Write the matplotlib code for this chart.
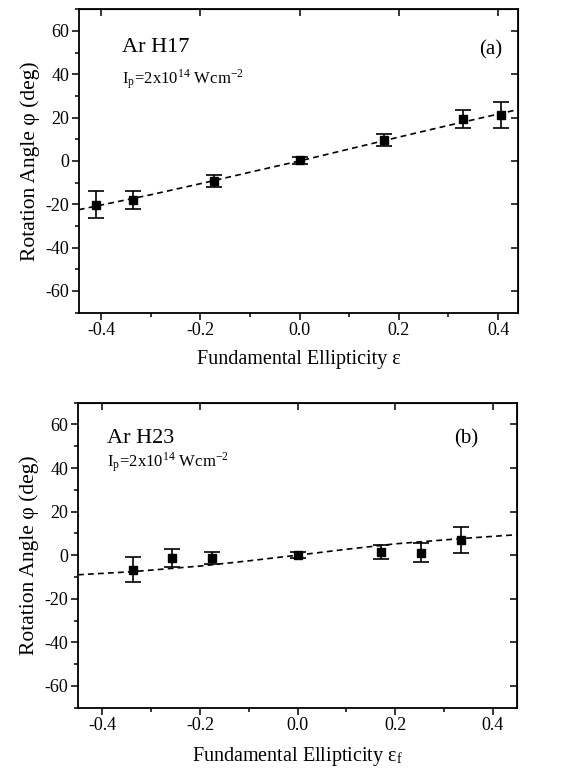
import numpy as np
import matplotlib
matplotlib.use("Agg")
import matplotlib.pyplot as plt
from matplotlib.ticker import MultipleLocator

plt.rcParams['font.family'] = ['Liberation Serif', 'DejaVu Serif']
plt.rcParams['mathtext.fontset'] = 'stix'

# panel (a): Ar H17
xa = [-0.41, -0.335, -0.173, 0.0, 0.17, 0.33, 0.405]
ya = [-20.2, -18.0, -9.2, 0.2, 9.8, 19.4, 21.0]
ea = [6.1, 4.3, 2.6, 1.5, 2.7, 4.2, 6.0]
fita_x = [-0.445, -0.3, -0.2, -0.1, 0.0, 0.1, 0.2, 0.3, 0.44]
fita_y = [-22.5, -15.6, -10.5, -5.2, 0.0, 5.5, 11.0, 16.4, 23.7]

# panel (b): Ar H23
xb = [-0.337, -0.258, -0.175, 0.0, 0.172, 0.254, 0.334]
yb = [-6.6, -1.2, -1.4, 0.0, 1.4, 1.1, 6.9]
eb = [5.8, 4.2, 2.8, 1.3, 3.1, 4.3, 6.0]
fitb_x = [-0.45, -0.34, -0.2, -0.1, 0.0, 0.1, 0.2, 0.34, 0.45]
fitb_y = [-9.0, -7.6, -5.0, -2.6, 0.0, 2.7, 5.2, 7.7, 9.4]

xticks = [-0.4, -0.2, 0.0, 0.2, 0.4]
xticklabels = ['-0.4', '-0.2', '0.0', '0.2', '0.4']
yticks = [-60, -40, -20, 0, 20, 40, 60]
yticklabels = ['-60', '-40', '-20', '0', '20', '40', '60']


def panel(ax, x, y, e, fx, fy, xlim, title, tag, xlabel, tx, ty, ipy, tagx, tagy):
    ax.plot(fx, fy, color='black', lw=1.2, ls=(0, (3.5, 2.5)))
    ax.errorbar(x, y, yerr=e, fmt='s', color='black', ms=6, capsize=6,
                elinewidth=1.2, capthick=1.2)
    ax.set_xlim(*xlim)
    ax.set_ylim(-70, 70)
    ax.xaxis.set_minor_locator(MultipleLocator(0.1))
    ax.yaxis.set_minor_locator(MultipleLocator(10))
    ax.tick_params(which='major', direction='out', length=5, width=1.1,
                   labelsize=13, pad=2)
    ax.tick_params(which='minor', direction='out', length=3, width=1.1)
    ax.set_xticks(xticks)
    ax.set_xticklabels(xticklabels)
    ax.set_yticks(yticks)
    ax.set_yticklabels(yticklabels)
    for s in ax.spines.values():
        s.set_linewidth(1.3)
    top = ax.secondary_xaxis('top')
    top.set_xticks(xticks)
    top.tick_params(direction='in', length=5, width=1.1, labeltop=False)
    right = ax.secondary_yaxis('right')
    right.set_yticks(yticks)
    right.tick_params(direction='in', length=5, width=1.1, labelright=False)
    ax.set_ylabel('Rotation Angle φ (deg)', fontsize=15.5, labelpad=4)
    ax.set_xlabel(xlabel, fontsize=14.5, labelpad=8)
    ax.text(tx, ty, title, transform=ax.transAxes, fontsize=16)
    ax.text(tx, ipy, r'I$_\mathregular{p}$=2x10$^\mathregular{14}$ Wcm$^\mathregular{-2}$',
            transform=ax.transAxes, fontsize=12)
    ax.text(tagx, tagy, tag, transform=ax.transAxes, fontsize=15)


fig = plt.figure(figsize=(5.63, 7.70), dpi=100)
ax1 = fig.add_axes([0.140, 0.594, 0.780, 0.394])
ax2 = fig.add_axes([0.1385, 0.081, 0.780, 0.396])

panel(ax1, xa, ya, ea, fita_x, fita_y, (-0.445, 0.44), 'Ar H17', '(a)',
      'Fundamental Ellipticity ε', 0.098, 0.859, 0.752, 0.912, 0.852)
panel(ax2, xb, yb, eb, fitb_x, fitb_y, (-0.45, 0.45), 'Ar H23', '(b)',
      r'Fundamental Ellipticity ε$_\mathregular{f}$', 0.066, 0.869, 0.787, 0.857, 0.866)

fig.savefig('out.png', dpi=100)
